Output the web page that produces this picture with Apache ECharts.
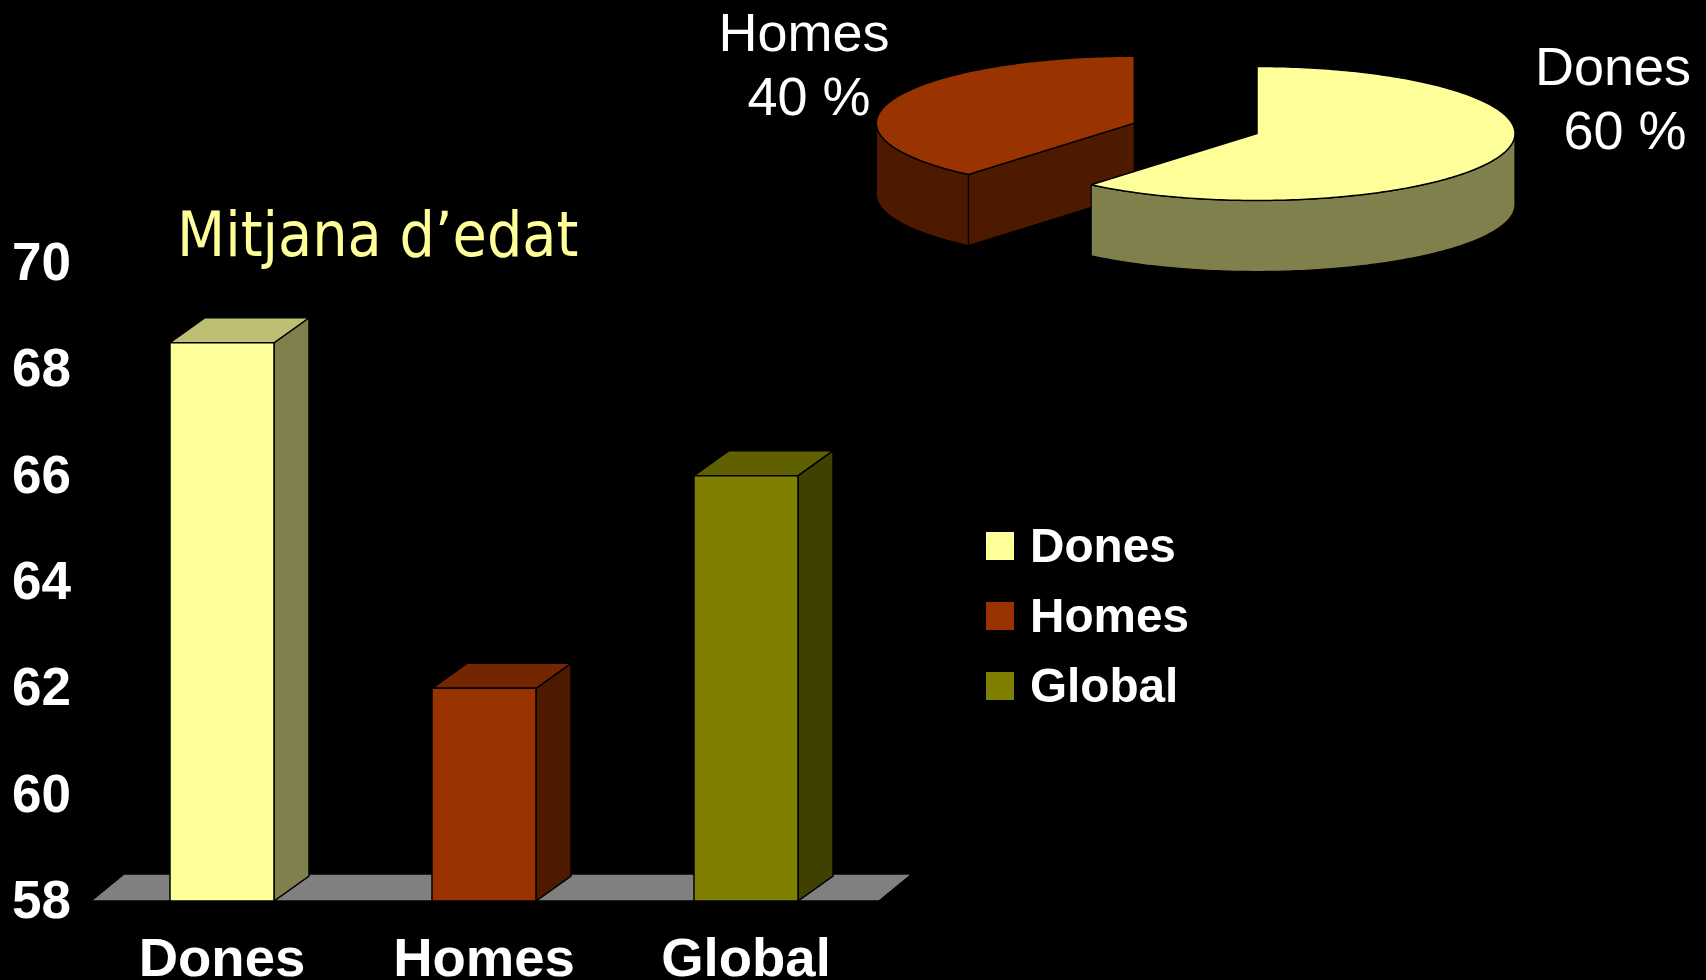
<!DOCTYPE html>
<html><head><meta charset="utf-8">
<style>html,body{margin:0;padding:0;background:#000}#c{width:1706px;height:980px}</style>
<script src="https://cdn.jsdelivr.net/npm/echarts@6/dist/echarts.min.js"></script>
</head><body><div id="c"></div>
<script>
const categories = ['Dones', 'Homes', 'Global'];
const ageValues = [68.5, 62, 66];
const yTicks = [58, 60, 62, 64, 66, 68, 70];
const pieNames = ['Dones', 'Homes'];
const pieValues = [60, 40];
const titleText = 'Mitjana d\u2019edat';

const frontColors = ['#FFFF99', '#993300', '#808000'];
const sideColors = ['#80804D', '#4D1A00', '#404000'];
const topColors = ['#BFBF73', '#732600', '#606000'];

const chart = echarts.init(document.getElementById('c'), null, {renderer: 'canvas'});
const DEPTH_X = 35, DEPTH_Y = 25;

function renderFloor(params, api) {
  const g = params.coordSys;
  const b = g.y + g.height;
  return {type: 'polygon', silent: true,
    shape: {points: [[g.x, b], [g.x + 33, b - 27], [g.x + g.width + 35, b - 27], [g.x + g.width + 2, b]]},
    style: {fill: '#808080', stroke: '#000', lineWidth: 1.5}};
}
function barRenderer(i) {
  return function (params, api) {
    const top = api.coord([api.value(0), api.value(1)]);
    const base = api.coord([api.value(0), yTicks[0]]);
    const w = api.size([1, 0])[0] * 0.397;
    const l = top[0] - w / 2, r = top[0] + w / 2;
    const line = {stroke: '#000', lineWidth: 1.5, lineJoin: 'miter'};
    return {type: 'group', children: [
      {type: 'polygon', shape: {points: [[r, top[1]], [r + DEPTH_X, top[1] - DEPTH_Y], [r + DEPTH_X, base[1] - DEPTH_Y], [r, base[1]]]},
        style: Object.assign({fill: sideColors[i]}, line)},
      {type: 'polygon', shape: {points: [[l, top[1]], [l + DEPTH_X, top[1] - DEPTH_Y], [r + DEPTH_X, top[1] - DEPTH_Y], [r, top[1]]]},
        style: Object.assign({fill: topColors[i]}, line)},
      {type: 'rect', shape: {x: l, y: top[1], width: w, height: base[1] - top[1]},
        style: Object.assign({fill: frontColors[i]}, line)}
    ]};
  };
}

/* 3D pie: an ellipse seen in perspective; angles run clockwise from 12 o'clock */
const PIE = {cx: 1257, cy: 133.5, rx: 258, ry: 67, depth: 71, explode: 129};
const pieFront = ['#FFFF99', '#993300'];
const pieSide = ['#80804D', '#4D1A00'];
const pieText = [
  [[1613, 70], [1625, 134]],
  [[804, 36], [809, 100]]
];
const rad = d => d * Math.PI / 180;
const bend = a => a + 4.2 * Math.sin(rad(a / 2));   /* perspective shift of the seam */
function pt(c, a, dz) {
  return [c.x + PIE.rx * Math.sin(rad(a)), c.y - PIE.ry * Math.cos(rad(a)) + (dz || 0)];
}
function arc(c, a0, a1, dz) {
  const out = [], n = Math.max(2, Math.ceil(Math.abs(a1 - a0)));
  for (let k = 0; k <= n; k++) out.push(pt(c, a0 + (a1 - a0) * k / n, dz));
  return out;
}
function renderPie(params, api) {
  const i = params.dataIndex;
  const total = pieValues.reduce((s, v) => s + v, 0);
  let before = 0;
  for (let k = 0; k < i; k++) before += pieValues[k];
  const a0 = bend(before / total * 360);
  const a1 = bend((before + api.value(0)) / total * 360);
  const mid = (before + api.value(0) / 2) / total * 360;
  const off = i === 0 ? 0 : PIE.explode;
  const c = {x: PIE.cx + off * Math.sin(rad(mid)),
             y: PIE.cy - off * Math.cos(rad(mid)) * PIE.ry / PIE.rx};
  const children = [];
  const layer = i === 0 ? 10 : 1;
  const wall = {stroke: '#000', lineWidth: 1.2, lineJoin: 'round'};
  /* visible outer wall: the front half of the ellipse */
  const w0 = Math.max(a0, 90), w1 = Math.min(a1, 270);
  if (w1 > w0) {
    const pts = arc(c, w0, w1, 0).concat(arc(c, w1, w0, PIE.depth));
    children.push({type: 'polygon', z2: layer, shape: {points: pts}, style: Object.assign({fill: pieSide[i]}, wall)});
  }
  /* visible cut face: the one going from the centre to the front seam */
  if (i === 1) {
    const p = pt(c, a0);
    children.push({type: 'polygon', z2: layer,
      shape: {points: [[c.x, c.y], p, [p[0], p[1] + PIE.depth], [c.x, c.y + PIE.depth]]},
      style: Object.assign({fill: pieSide[i]}, wall)});
  }
  const topPts = [[c.x, c.y]].concat(arc(c, a0, a1, 0));
  children.push({type: 'polygon', z2: layer + 1, shape: {points: topPts},
    style: {fill: pieFront[i], stroke: '#000', lineWidth: 1.5, lineJoin: 'round'}});
  const lines = [pieNames[i], api.value(0) + ' %'];
  lines.forEach((t, k) => children.push({type: 'text', silent: true, z2: 20,
    style: {text: t, x: pieText[i][k][0], y: pieText[i][k][1], align: 'center', verticalAlign: 'middle',
      fill: '#fff', fontFamily: 'Liberation Sans', fontSize: 54}}));
  return {type: 'group', children};
}

const barSeries = categories.map((name, i) => ({
  type: 'custom', name, coordinateSystem: 'cartesian2d', z: 3 + i,
  itemStyle: {color: frontColors[i]},
  data: [[i, ageValues[i]]],
  encode: {x: 0, y: 1},
  clip: false,
  renderItem: barRenderer(i)
}));

chart.setOption({
  backgroundColor: '#000',
  animation: false,
  title: {text: titleText, left: 172, top: 204,
    textStyle: {color: '#FFFF99', fontFamily: 'DejaVu Sans Condensed', fontWeight: 'normal', fontSize: 62}},
  legend: {data: categories, orient: 'vertical', left: 981, top: 520, icon: 'rect',
    itemWidth: 28, itemHeight: 28, itemGap: 22,
    selectedMode: false,
    formatter: n => '{t|' + n + '}',
    textStyle: {color: '#fff', rich: {t: {color: '#fff', fontFamily: 'Liberation Sans', fontWeight: 'bold', fontSize: 47.7,
      verticalAlign: 'bottom', padding: [6, 0, 0, 11]}}}},
  grid: {left: 91, top: 263, width: 786, height: 638, containLabel: false, outerBoundsMode: 'none'},
  xAxis: {type: 'category', data: categories,
    axisLine: {show: false}, axisTick: {show: false}, splitLine: {show: false},
    axisLabel: {color: '#fff', fontFamily: 'Liberation Sans', fontWeight: 'bold', fontSize: 54.5, margin: 32, interval: 0}},
  yAxis: {type: 'value', min: yTicks[0], max: yTicks[yTicks.length - 1], interval: 2,
    axisLine: {show: false}, axisTick: {show: false}, splitLine: {show: false},
    axisLabel: {color: '#fff', fontFamily: 'Liberation Sans', fontWeight: 'bold', fontSize: 53, margin: 20,
      verticalAlign: 'top', padding: [-24, 0, 0, 0]}},
  series: [
    {type: 'custom', name: 'Terra', coordinateSystem: 'cartesian2d', z: 1, silent: true,
      data: [[0, yTicks[0]]], encode: {x: 0, y: 1}, clip: false, renderItem: renderFloor},
    ...barSeries,
    {type: 'custom', name: 'Repartiment', coordinateSystem: 'none', z: 2, silent: true,
      data: pieValues.map(v => [v]), renderItem: renderPie}
  ]
});
</script></body></html>
